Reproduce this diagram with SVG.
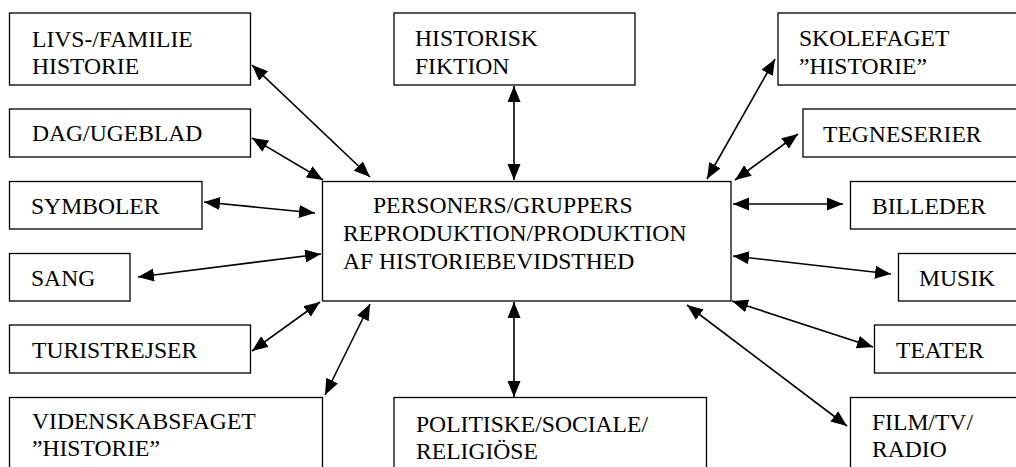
<svg xmlns="http://www.w3.org/2000/svg" width="1016" height="467" viewBox="0 0 1016 467">
<style>
.box{fill:#fff;stroke:#000;stroke-width:1.3}
.t{font-family:'Liberation Serif','Times New Roman',Times,serif;font-size:23.6px;fill:#000}
.con{stroke:#000;stroke-width:1.6;fill:none;marker-start:url(#ah);marker-end:url(#ah)}
</style>
<defs>
<marker id="ah" markerUnits="userSpaceOnUse" markerWidth="18" markerHeight="14" refX="16" refY="6.5" orient="auto-start-reverse">
<path d="M0,0 L16,6.5 L0,13 z" fill="#000"/>
</marker>
</defs>
<rect width="1016" height="467" fill="#fff"/>
<g id="connectors">
<line class="con" x1="252" y1="65" x2="370" y2="177"/>
<line class="con" x1="252" y1="138" x2="323" y2="180"/>
<line class="con" x1="204" y1="202" x2="315" y2="213"/>
<line class="con" x1="138" y1="277" x2="321" y2="254"/>
<line class="con" x1="252" y1="351" x2="320" y2="302"/>
<line class="con" x1="325" y1="395" x2="370" y2="304"/>
<line class="con" x1="514" y1="86" x2="514" y2="180"/>
<line class="con" x1="514" y1="302" x2="514" y2="397"/>
<line class="con" x1="775" y1="59" x2="707" y2="179"/>
<line class="con" x1="798" y1="134" x2="735" y2="180"/>
<line class="con" x1="733" y1="204" x2="843" y2="204"/>
<line class="con" x1="733" y1="256" x2="891" y2="274"/>
<line class="con" x1="732" y1="301" x2="873" y2="347"/>
<line class="con" x1="687" y1="305" x2="847" y2="426"/>
</g>
<g id="center">
<rect class="box" x="322.5" y="181.5" width="408.5" height="119.5"/>
<text class="t" x="373" y="213">PERSONERS/GRUPPERS</text>
<text class="t" x="343" y="241">REPRODUKTION/PRODUKTION</text>
<text class="t" x="343" y="269">AF HISTORIEBEVIDSTHED</text>
</g>
<g id="livs">
<rect class="box" x="9.5" y="13" width="241" height="72"/>
<text class="t" x="32" y="47">LIVS-/FAMILIE</text>
<text class="t" x="32" y="74">HISTORIE</text>
</g>
<g id="dag">
<rect class="box" x="9.5" y="109" width="241" height="48"/>
<text class="t" x="32" y="141">DAG/UGEBLAD</text>
</g>
<g id="symboler">
<rect class="box" x="9.5" y="181.5" width="192.5" height="47.5"/>
<text class="t" x="31" y="213.5">SYMBOLER</text>
</g>
<g id="sang">
<rect class="box" x="9.5" y="253.5" width="120.5" height="47.5"/>
<text class="t" x="31" y="285.5">SANG</text>
</g>
<g id="turist">
<rect class="box" x="9.5" y="325" width="241" height="48"/>
<text class="t" x="32" y="358">TURISTREJSER</text>
</g>
<g id="videnskab">
<rect class="box" x="9.5" y="397.5" width="313" height="90"/>
<text class="t" x="32" y="429">VIDENSKABSFAGET</text>
<text class="t" x="32" y="456">”HISTORIE”</text>
</g>
<g id="historisk">
<rect class="box" x="394" y="13" width="241" height="72"/>
<text class="t" x="415" y="46">HISTORISK</text>
<text class="t" x="415" y="74">FIKTION</text>
</g>
<g id="politiske">
<rect class="box" x="394" y="397.5" width="312.5" height="90"/>
<text class="t" x="416" y="432">POLITISKE/SOCIALE/</text>
<text class="t" x="416" y="459">RELIGIÖSE</text>
</g>
<g id="skole">
<rect class="box" x="778" y="13" width="260" height="72"/>
<text class="t" x="799" y="46">SKOLEFAGET</text>
<text class="t" x="799" y="74">”HISTORIE”</text>
</g>
<g id="tegne">
<rect class="box" x="803" y="109" width="240" height="48"/>
<text class="t" x="823" y="141.5">TEGNESERIER</text>
</g>
<g id="billeder">
<rect class="box" x="850.5" y="181.5" width="200" height="47.5"/>
<text class="t" x="872" y="214">BILLEDER</text>
</g>
<g id="musik">
<rect class="box" x="898.5" y="253.5" width="150" height="47.5"/>
<text class="t" x="919" y="286">MUSIK</text>
</g>
<g id="teater">
<rect class="box" x="874.5" y="325" width="180" height="48"/>
<text class="t" x="896" y="358">TEATER</text>
</g>
<g id="film">
<rect class="box" x="850.5" y="397.5" width="200" height="90"/>
<text class="t" x="872" y="430">FILM/TV/</text>
<text class="t" x="872" y="457">RADIO</text>
</g>
</svg>
